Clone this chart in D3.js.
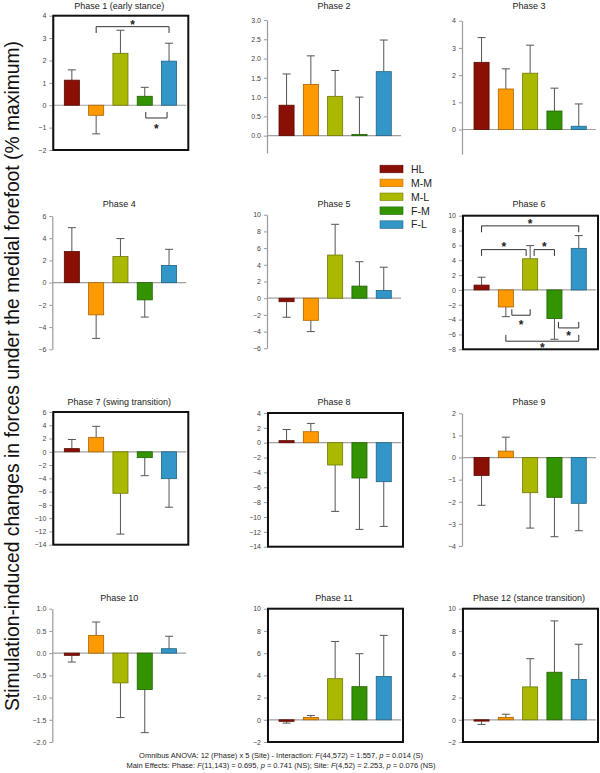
<!DOCTYPE html>
<html>
<head>
<meta charset="utf-8">
<script src="https://cdn.jsdelivr.net/npm/d3@7"></script>
<style>
  body { margin: 0; background: #fff; }
  svg { display: block; font-family: "Liberation Sans", Arial, sans-serif; }
</style>
</head>
<body>
<script>
// ---------------- DATA ----------------
const sites = ["HL", "M-M", "M-L", "F-M", "F-L"];
const siteColors = ["#8a0f04", "#ff9900", "#aab800", "#339400", "#3396c8"];

const phaseTitles = [
  "Phase 1 (early stance)", "Phase 2", "Phase 3",
  "Phase 4", "Phase 5", "Phase 6",
  "Phase 7 (swing transition)", "Phase 8", "Phase 9",
  "Phase 10", "Phase 11", "Phase 12 (stance transition)"
];

// mean change per site (HL, M-M, M-L, F-M, F-L)
const meanValues = [
  [1.12, -0.45, 2.32, 0.40, 1.97],
  [0.79, 1.33, 1.02, 0.03, 1.66],
  [2.47, 1.49, 2.07, 0.68, 0.12],
  [2.80, -2.90, 2.35, -1.55, 1.55],
  [-0.42, -2.65, 5.17, 1.45, 0.92],
  [0.65, -2.30, 4.20, -3.85, 5.60],
  [0.48, 2.18, -6.25, -0.88, -4.05],
  [0.28, 1.48, -3.00, -4.75, -5.25],
  [-0.81, 0.29, -1.59, -1.80, -2.07],
  [-0.05, 0.40, -0.67, -0.82, 0.10],
  [-0.14, 0.21, 3.70, 2.98, 3.90],
  [-0.12, 0.22, 2.96, 4.28, 3.62]
];
// end of the error bar (mean +/- SD, drawn outward)
const errorEnds = [
  [1.58, -1.28, 3.35, 0.80, 2.77],
  [1.60, 2.07, 1.69, 1.00, 2.48],
  [3.38, 2.23, 3.10, 1.52, 0.94],
  [4.95, -5.02, 3.97, -3.10, 3.00],
  [-2.28, -4.00, 8.85, 4.37, 3.71],
  [1.71, -3.60, 5.97, -6.65, 7.32],
  [1.86, 3.84, -12.40, -3.60, -8.35],
  [1.78, 2.60, -9.25, -11.67, -11.27],
  [-2.16, 0.92, -3.19, -3.58, -3.31],
  [-0.20, 0.70, -1.45, -1.79, 0.38],
  [-0.30, 0.38, 7.05, 5.95, 7.60],
  [-0.42, 0.50, 5.50, 8.90, 6.80]
];

// y-axis domains and tick labels
const yDomains = [
  [-2, 4], [-0.45, 3], [-0.9, 4],
  [-6, 6], [-6, 10], [-8, 10],
  [-14, 6], [-14, 4], [-4, 2],
  [-2, 1], [-2, 10], [-2, 10]
];
const yTicks = [
  [-2, -1, 0, 1, 2, 3, 4],
  [0, 0.5, 1, 1.5, 2, 2.5, 3],
  [0, 1, 2, 3, 4],
  [-6, -4, -2, 0, 2, 4, 6],
  [-6, -4, -2, 0, 2, 4, 6, 8, 10],
  [-8, -6, -4, -2, 0, 2, 4, 6, 8, 10],
  [-14, -12, -10, -8, -6, -4, -2, 0, 2, 4, 6],
  [-14, -12, -10, -8, -6, -4, -2, 0, 2, 4],
  [-4, -3, -2, -1, 0, 1, 2],
  [-2, -1.5, -1, -0.5, 0, 0.5, 1],
  [-2, 0, 2, 4, 6, 8, 10],
  [-2, 0, 2, 4, 6, 8, 10]
];
const tickFormats = ["d", ".1f", "d", "d", "d", "d", "d", "d", "d", ".1f", "d", "d"];
const boxedPanels = [0, 5, 6, 7, 10, 11];

// significance brackets: [phase index, from site, to site, bar level, end level, star level]
const brackets = [
  [0, "M-M", "F-L", 3.51, 3.23, 3.72],
  [0, "F-M", "F-L", -0.57, -0.30, -0.92],
  [5, "HL", "F-L", 8.63, 7.77, 9.25],
  [5, "HL", "M-L", 5.43, 4.58, 6.15],
  [5, "M-L", "F-M", 5.43, 4.58, 6.15],
  [5, "M-M", "M-L", -3.41, -2.60, -4.30],
  [5, "F-M", "F-L", -5.12, -4.31, -5.85],
  [5, "M-M", "F-L", -6.91, -6.06, -7.40]
];

const yAxisLabel = "Stimulation-induced changes in forces under the medial forefoot (% maximum)";
const footerLine1 = [["Omnibus ANOVA: 12 (Phase) x 5 (Site) - Interaction: ", false], ["F", true], ["(44,572) = 1.557, ", false], ["p", true], [" = 0.014 (S)", false]];
const footerLine2 = [["Main Effects:  Phase: ", false], ["F", true], ["(11,143) = 0.695, ", false], ["p", true], [" = 0.741 (NS); Site: ", false], ["F", true], ["(4,52) = 2.253, ", false], ["p", true], [" = 0.076 (NS)", false]];

// ---------------- LAYOUT ----------------
const W = 600, H = 773;
const colAxisX = [52.3, 267, 462];
const panelPixY = [
  [150, 15.7], [153, 20], [154, 20.7],
  [349.3, 216], [348.3, 214.7], [349.3, 215.7],
  [544.7, 412], [546.7, 413], [546, 413.3],
  [742, 608.7], [742, 608.7], [742, 608.7]
];
const titleBaseline = [8.5, 207, 405, 600.5];
const plotW = 135;

const svg = d3.select("body").append("svg").attr("width", W).attr("height", H);

// bracket offsets (px) where two brackets share a bar in Phase 6
const bracketOffsets = {
  "5-HL-M-L": [0, -4], "5-M-L-F-M": [4, 0], "5-M-M-M-L": [6, 0], "5-F-M-F-L": [4, 0],
  "0-F-M-F-L": [1, -2]
};

phaseTitles.forEach((title, i) => {
  const col = i % 3, row = Math.floor(i / 3);
  const ax = colAxisX[col];
  const [yb, yt] = panelPixY[i];
  const dom = yDomains[i];
  const y = d3.scaleLinear().domain(dom).range([yb, yt]);
  const x = d3.scaleBand().domain(sites)
    .range([ax + 7.4, ax + 128.9]).paddingInner(0.38).paddingOuter(0.19);

  const g = svg.append("g");

  // title
  g.append("text").attr("x", ax + 67).attr("y", titleBaseline[row])
    .attr("text-anchor", "middle").attr("font-size", 9).attr("fill", "#222")
    .text(title);

  // y axis
  const axis = d3.axisLeft(y).tickValues(yTicks[i]).tickSize(3).tickSizeOuter(0)
    .tickPadding(3).tickFormat(d3.format(tickFormats[i]));
  const ag = g.append("g").attr("transform", `translate(${ax},0)`).call(axis);
  ag.select(".domain").attr("stroke", "#9a9a9a").attr("stroke-width", 1.2);
  ag.selectAll(".tick line").attr("stroke", "#9a9a9a");
  ag.selectAll(".tick text").attr("font-size", 7).attr("fill", "#444")
    .attr("font-family", "'Liberation Sans', Arial, sans-serif");

  // zero line
  g.append("line").attr("x1", ax).attr("x2", ax + plotW - 1)
    .attr("y1", y(0)).attr("y2", y(0)).attr("stroke", "#a0a0a0").attr("stroke-width", 1.2);

  // bars
  sites.forEach((s, k) => {
    const v = meanValues[i][k];
    const e = errorEnds[i][k];
    const c = siteColors[k];
    const cx = x(s) + x.bandwidth() / 2;
    // error bar
    g.append("line").attr("x1", cx).attr("x2", cx).attr("y1", y(v)).attr("y2", y(e))
      .attr("stroke", "#555").attr("stroke-width", 1);
    g.append("line").attr("x1", cx - 4).attr("x2", cx + 4).attr("y1", y(e)).attr("y2", y(e))
      .attr("stroke", "#555").attr("stroke-width", 1);
    g.append("rect")
      .attr("x", x(s)).attr("width", x.bandwidth())
      .attr("y", Math.min(y(v), y(0)))
      .attr("height", Math.max(Math.abs(y(v) - y(0)), 1.2))
      .attr("fill", c)
      .attr("stroke", d3.color(c).darker(1.2))
      .attr("stroke-width", 0.8);
  });

  // box
  if (boxedPanels.includes(i)) {
    g.append("rect").attr("x", ax + 1).attr("y", yt)
      .attr("width", plotW).attr("height", yb - yt)
      .attr("fill", "none").attr("stroke", "#111").attr("stroke-width", 2);
  }

  // brackets
  brackets.filter(b => b[0] === i).forEach(b => {
    const [, s1, s2, lvl, endLvl, starLvl] = b;
    const off = bracketOffsets[`${i}-${s1}-${s2}`] || [0, 0];
    const x1 = x(s1) + x.bandwidth() / 2 + off[0];
    const x2 = x(s2) + x.bandwidth() / 2 + off[1];
    g.append("path")
      .attr("d", `M${x1},${y(endLvl)}V${y(lvl)}H${x2}V${y(endLvl)}`)
      .attr("fill", "none").attr("stroke", "#333").attr("stroke-width", 1);
    const fs = 12;
    g.append("text").attr("x", (x1 + x2) / 2).attr("y", y(starLvl) + fs * 0.58)
      .attr("text-anchor", "middle").attr("font-size", fs).attr("font-weight", "bold")
      .attr("fill", "#222").text("*");
  });
});

// legend
const legend = svg.append("g");
sites.forEach((s, k) => {
  const cy = 169 + k * 13.9;
  legend.append("rect").attr("x", 380).attr("y", cy - 3.8).attr("width", 23).attr("height", 7.6)
    .attr("fill", siteColors[k]).attr("stroke", d3.color(siteColors[k]).darker(1)).attr("stroke-width", 0.6);
  legend.append("text").attr("x", 411).attr("y", cy + 3.8).attr("font-size", 10.5)
    .attr("fill", "#222").text(s);
});

// y-axis label
const labelFs = 20;
svg.append("text")
  .attr("transform", "translate(19,376) rotate(-90)")
  .attr("text-anchor", "middle").attr("font-size", labelFs).attr("fill", "#111")
  .attr("textLength", 670).attr("lengthAdjust", "spacingAndGlyphs")
  .text(yAxisLabel);

// footer
function footer(parts, yPos) {
  const t = svg.append("text").attr("x", 281).attr("y", yPos).attr("text-anchor", "middle")
    .attr("font-size", 7.5).attr("fill", "#222");
  parts.forEach(([txt, it]) => {
    t.append("tspan").attr("font-style", it ? "italic" : "normal").text(txt);
  });
}
footer(footerLine1, 758.3);
footer(footerLine2, 768.3);
</script>
</body>
</html>
